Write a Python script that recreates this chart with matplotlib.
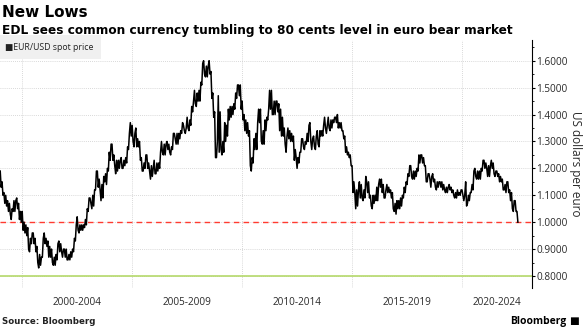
import numpy as np
import matplotlib
matplotlib.use("Agg")
import matplotlib.pyplot as plt
from matplotlib.ticker import MultipleLocator, FixedLocator

# EUR/USD spot, monthly high / low (Jan 1999 .. Jul 2022)
eurusd_high = [
    1.19, 1.15, 1.11, 1.10, 1.08, 1.07, 1.05, 1.08, 1.08, 1.09, 1.07, 1.04,  # 1999
    1.04, 1.00, 0.99, 0.98, 0.94, 0.96, 0.96, 0.94, 0.91, 0.88, 0.87, 0.94,  # 2000
    0.96, 0.94, 0.93, 0.91, 0.90, 0.87, 0.88, 0.92, 0.93, 0.92, 0.90, 0.90,  # 2001
    0.90, 0.88, 0.89, 0.90, 0.94, 0.99, 1.02, 0.99, 0.99, 0.99, 1.01, 1.05,  # 2002
    1.09, 1.09, 1.10, 1.12, 1.19, 1.19, 1.16, 1.14, 1.17, 1.18, 1.20, 1.26,  # 2003
    1.29, 1.29, 1.25, 1.23, 1.23, 1.23, 1.24, 1.23, 1.24, 1.28, 1.33, 1.37,  # 2004
    1.36, 1.33, 1.35, 1.31, 1.30, 1.24, 1.22, 1.25, 1.25, 1.22, 1.21, 1.20,  # 2005
    1.23, 1.22, 1.22, 1.26, 1.30, 1.29, 1.29, 1.30, 1.29, 1.28, 1.33, 1.33,  # 2006
    1.33, 1.33, 1.34, 1.37, 1.36, 1.35, 1.39, 1.38, 1.43, 1.45, 1.49, 1.48,  # 2007
    1.49, 1.52, 1.59, 1.60, 1.58, 1.58, 1.60, 1.56, 1.48, 1.41, 1.30, 1.47,  # 2008
    1.41, 1.30, 1.37, 1.36, 1.42, 1.43, 1.43, 1.44, 1.48, 1.51, 1.51, 1.51,  # 2009
    1.45, 1.40, 1.38, 1.37, 1.34, 1.24, 1.31, 1.33, 1.37, 1.42, 1.42, 1.34,  # 2010
    1.38, 1.39, 1.42, 1.49, 1.49, 1.45, 1.45, 1.45, 1.44, 1.42, 1.39, 1.35,  # 2011
    1.32, 1.35, 1.34, 1.33, 1.32, 1.27, 1.24, 1.26, 1.31, 1.31, 1.30, 1.33,  # 2012
    1.36, 1.37, 1.31, 1.32, 1.32, 1.34, 1.34, 1.34, 1.36, 1.39, 1.36, 1.39,  # 2013
    1.38, 1.38, 1.39, 1.39, 1.40, 1.37, 1.37, 1.34, 1.32, 1.28, 1.26, 1.25,  # 2014
    1.21, 1.15, 1.12, 1.12, 1.15, 1.14, 1.12, 1.17, 1.15, 1.15, 1.10, 1.10,  # 2015
    1.10, 1.13, 1.14, 1.16, 1.16, 1.14, 1.12, 1.14, 1.13, 1.12, 1.11, 1.07,  # 2016
    1.08, 1.08, 1.09, 1.10, 1.13, 1.15, 1.18, 1.21, 1.21, 1.19, 1.19, 1.20,  # 2017
    1.25, 1.25, 1.25, 1.24, 1.21, 1.18, 1.18, 1.17, 1.18, 1.16, 1.15, 1.15,  # 2018
    1.15, 1.15, 1.14, 1.13, 1.13, 1.14, 1.13, 1.12, 1.11, 1.12, 1.11, 1.12,  # 2019
    1.12, 1.10, 1.15, 1.10, 1.11, 1.14, 1.19, 1.20, 1.19, 1.19, 1.20, 1.23,  # 2020
    1.23, 1.22, 1.21, 1.21, 1.23, 1.22, 1.19, 1.19, 1.18, 1.17, 1.16, 1.14,  # 2021
    1.15, 1.15, 1.12, 1.11, 1.08, 1.08, 1.04,                                # 2022
]
eurusd_low = [
    1.13, 1.10, 1.07, 1.06, 1.04, 1.03, 1.01, 1.04, 1.04, 1.05, 1.01, 1.00,  # 1999
    0.97, 0.96, 0.95, 0.90, 0.89, 0.92, 0.92, 0.89, 0.85, 0.83, 0.84, 0.87,  # 2000
    0.92, 0.91, 0.87, 0.87, 0.85, 0.84, 0.84, 0.86, 0.89, 0.89, 0.87, 0.87,  # 2001
    0.86, 0.86, 0.86, 0.87, 0.89, 0.93, 0.97, 0.96, 0.97, 0.97, 0.98, 0.99,  # 2002
    1.04, 1.07, 1.05, 1.06, 1.12, 1.13, 1.12, 1.08, 1.09, 1.15, 1.14, 1.19,  # 2003
    1.23, 1.23, 1.21, 1.18, 1.19, 1.20, 1.20, 1.20, 1.21, 1.22, 1.27, 1.32,  # 2004
    1.30, 1.28, 1.28, 1.28, 1.23, 1.19, 1.19, 1.20, 1.20, 1.19, 1.16, 1.17,  # 2005
    1.18, 1.18, 1.19, 1.20, 1.26, 1.25, 1.25, 1.27, 1.26, 1.25, 1.27, 1.31,  # 2006
    1.29, 1.29, 1.31, 1.33, 1.34, 1.33, 1.35, 1.34, 1.36, 1.41, 1.44, 1.43,  # 2007
    1.45, 1.45, 1.51, 1.55, 1.54, 1.54, 1.55, 1.46, 1.39, 1.24, 1.24, 1.26,  # 2008
    1.27, 1.25, 1.26, 1.30, 1.32, 1.38, 1.39, 1.40, 1.42, 1.46, 1.47, 1.42,  # 2009
    1.38, 1.34, 1.33, 1.32, 1.21, 1.19, 1.22, 1.27, 1.27, 1.37, 1.30, 1.29,  # 2010
    1.29, 1.34, 1.38, 1.42, 1.40, 1.40, 1.40, 1.41, 1.34, 1.32, 1.32, 1.29,  # 2011
    1.26, 1.31, 1.30, 1.30, 1.23, 1.24, 1.20, 1.22, 1.26, 1.28, 1.27, 1.29,  # 2012
    1.30, 1.30, 1.27, 1.28, 1.27, 1.29, 1.28, 1.32, 1.32, 1.35, 1.33, 1.35,  # 2013
    1.34, 1.35, 1.37, 1.37, 1.35, 1.35, 1.34, 1.31, 1.26, 1.25, 1.24, 1.21,  # 2014
    1.11, 1.11, 1.05, 1.06, 1.09, 1.09, 1.08, 1.09, 1.11, 1.09, 1.06, 1.05,  # 2015
    1.07, 1.08, 1.08, 1.13, 1.11, 1.09, 1.09, 1.11, 1.11, 1.09, 1.05, 1.04,  # 2016
    1.03, 1.05, 1.05, 1.06, 1.09, 1.11, 1.14, 1.17, 1.17, 1.16, 1.16, 1.17,  # 2017
    1.19, 1.22, 1.22, 1.21, 1.15, 1.15, 1.16, 1.13, 1.15, 1.13, 1.12, 1.13,  # 2018
    1.13, 1.12, 1.12, 1.11, 1.11, 1.12, 1.11, 1.10, 1.09, 1.09, 1.10, 1.10,  # 2019
    1.10, 1.08, 1.06, 1.07, 1.08, 1.11, 1.12, 1.17, 1.16, 1.16, 1.16, 1.19,  # 2020
    1.20, 1.20, 1.17, 1.17, 1.20, 1.18, 1.17, 1.17, 1.15, 1.15, 1.12, 1.12,  # 2021
    1.11, 1.11, 1.08, 1.05, 1.04, 1.04, 1.00,                                # 2022
]
start_year = 1999
parity = 1.0
edl_target = 0.80
y_ticks = [0.8, 0.9, 1.0, 1.1, 1.2, 1.3, 1.4, 1.5, 1.6]
period_edges = [2000, 2005, 2010, 2015, 2020]
period_labels = ["2000-2004", "2005-2009", "2010-2014", "2015-2019", "2020-2024"]

# trace each month's range: low->high on the way up, high->low on the way down
hi = np.array(eurusd_high)
lo = np.array(eurusd_low)
mid = (hi + lo) / 2
xs, ys = [], []
for i in range(len(hi)):
    rising = i + 1 < len(hi) and mid[i + 1] >= mid[i]
    first, second = (lo[i], hi[i]) if rising else (hi[i], lo[i])
    t0 = start_year + i / 12.0
    xs += [t0, t0 + 0.5 / 12]
    ys += [first, second]

fig = plt.figure(figsize=(5.85, 3.29), dpi=100)
ax = fig.add_axes([0.0, 0.1246, 0.9089, 0.7538])
xmin, xmax = 1998.99, 2023.17
ax.set_xlim(xmin, xmax)
ax.set_ylim(0.7554, 1.677)

ax.plot(xs, ys, color="black", lw=1.1, zorder=3)
ax.axhline(parity, color="#ff3b30", lw=1.0, ls=(0, (4, 3)), zorder=2)
ax.axhline(edl_target, color="#b5d96b", lw=1.2, zorder=2)

# grid
for y in y_ticks:
    ax.axhline(y, color="#cccccc", lw=0.6, ls=(0, (1, 1.5)), zorder=1)
for x in period_edges:
    ax.axvline(x, color="#cccccc", lw=0.6, ls=(0, (1, 1.5)), zorder=1)

# spines / ticks
for s in ["top", "left", "bottom"]:
    ax.spines[s].set_visible(False)
ax.spines["right"].set_linewidth(0.8)
ax.yaxis.tick_right()
ax.yaxis.set_major_locator(FixedLocator(y_ticks))
ax.yaxis.set_minor_locator(MultipleLocator(0.05))
ax.set_yticklabels(["%.4f" % v for v in y_ticks], fontsize=7.2, color="#2a2a2a",
                   family="Open Sans")
ax.tick_params(axis="y", which="major", length=2.5, width=0.8, pad=1)
ax.tick_params(axis="y", which="minor", length=1.5, width=0.6)
ax.set_xticks([])
ax.yaxis.set_label_position("right")
ax.set_ylabel("US dollars per euro", rotation=270, fontsize=8.5, color="#2a2a2a",
              labelpad=10, family="Open Sans")

# period labels centred in each visible span
edges = period_edges + [xmax]
for i, lab in enumerate(period_labels):
    c = (edges[i] + edges[i + 1]) / 2
    ax.text(c, -0.06, lab, transform=ax.get_xaxis_transform(), ha="center",
            va="center", fontsize=7.2, color="#2a2a2a", family="Open Sans")

# legend box
fig.text(0.009, 0.856, "\u25a0EUR/USD spot price", fontsize=6.3, color="#222222",
         family=["Open Sans", "DejaVu Sans"], va="center",
         bbox=dict(boxstyle="square,pad=0.85", fc="#f0f0f0", ec="none"))

fig.text(0.003, 0.947, "New Lows", fontsize=11, fontweight="bold", va="baseline")
fig.text(0.003, 0.898, "EDL sees common currency tumbling to 80 cents level in euro bear market",
         fontsize=8.75, fontweight="bold", va="baseline")
fig.text(0.003, 0.022, "Source: Bloomberg", fontsize=6.2, fontweight="bold",
         va="center", color="#222222")
fig.text(0.968, 0.022, "Bloomberg", fontsize=7.5, fontweight="bold", ha="right",
         va="center", family="Open Sans")
fig.text(0.972, 0.024, "\u25a0", fontsize=7.5, va="center", family="DejaVu Sans")

fig.savefig("out.png", dpi=100)
